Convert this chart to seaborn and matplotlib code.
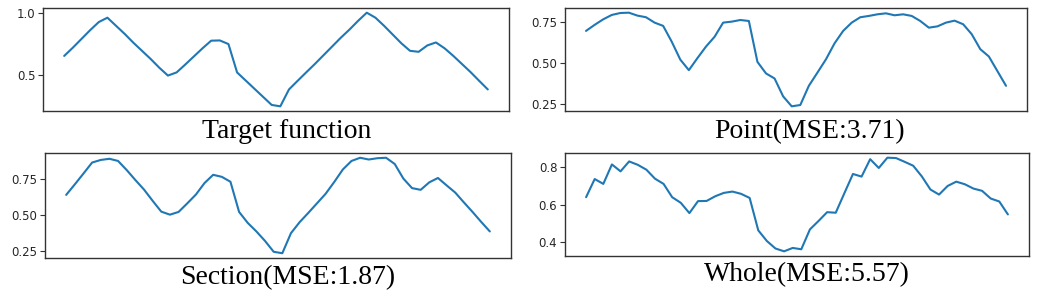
import numpy as np
import pandas as pd
import matplotlib
matplotlib.use("Agg")
import matplotlib.pyplot as plt
import seaborn as sns

# ---- data ----
target = [0.654, 0.72, 0.79, 0.86, 0.925, 0.96, 0.895, 0.83, 0.76, 0.695,
          0.63, 0.56, 0.497, 0.522, 0.585, 0.65, 0.715, 0.776, 0.778, 0.749,
          0.522, 0.457, 0.392, 0.327, 0.262, 0.251, 0.386, 0.455, 0.523, 0.59,
          0.66, 0.73, 0.80, 0.865, 0.935, 1.0, 0.96, 0.895, 0.825, 0.755,
          0.695, 0.687, 0.738, 0.762, 0.715, 0.655, 0.59, 0.525, 0.455, 0.386]
point = [0.696, 0.733, 0.767, 0.794, 0.806, 0.808, 0.79, 0.78, 0.747, 0.727,
         0.63, 0.52, 0.455, 0.529, 0.60, 0.66, 0.747, 0.753, 0.763, 0.757,
         0.506, 0.435, 0.404, 0.294, 0.233, 0.241, 0.359, 0.44, 0.522, 0.62,
         0.696, 0.747, 0.78, 0.788, 0.798, 0.804, 0.792, 0.798, 0.788, 0.757,
         0.716, 0.724, 0.747, 0.759, 0.737, 0.676, 0.584, 0.539, 0.449, 0.359]
section = [0.642, 0.715, 0.79, 0.866, 0.884, 0.892, 0.877, 0.814, 0.745, 0.679,
           0.601, 0.526, 0.505, 0.524, 0.583, 0.644, 0.724, 0.781, 0.767, 0.733,
           0.524, 0.448, 0.389, 0.323, 0.248, 0.238, 0.377, 0.453, 0.517, 0.583,
           0.649, 0.731, 0.818, 0.877, 0.899, 0.887, 0.896, 0.899, 0.856, 0.755,
           0.689, 0.677, 0.729, 0.759, 0.708, 0.658, 0.59, 0.524, 0.455, 0.389]
whole = [0.639, 0.736, 0.71, 0.814, 0.777, 0.83, 0.812, 0.786, 0.738, 0.71,
         0.639, 0.609, 0.554, 0.618, 0.619, 0.644, 0.662, 0.669, 0.657, 0.635,
         0.462, 0.405, 0.365, 0.350, 0.368, 0.361, 0.467, 0.512, 0.559, 0.556,
         0.66, 0.763, 0.749, 0.842, 0.795, 0.85, 0.848, 0.828, 0.807, 0.75,
         0.68, 0.653, 0.699, 0.722, 0.708, 0.685, 0.673, 0.632, 0.616, 0.547]

titles = ["Target function", "Point(MSE:3.71)", "Section(MSE:1.87)", "Whole(MSE:5.57)"]
yticks = [[0.5, 1.0], [0.25, 0.50, 0.75], [0.25, 0.50, 0.75], [0.4, 0.6, 0.8]]
yticklabels = [["0.5", "1.0"], ["0.25", "0.50", "0.75"], ["0.25", "0.50", "0.75"],
               ["0.4", "0.6", "0.8"]]
series = [target, point, section, whole]

# ---- layout (pixels in a 1053x308 canvas) ----
W, H = 1053, 308
axes_px = [(43, 8, 509, 111), (565, 8, 1027, 111), (45, 153, 511, 258), (565, 153, 1029, 256)]
cap_px = [(287, 137.5), (810, 138), (288, 284), (807, 281.5)]

sns.set_style("white")
plt.rcParams["font.family"] = ["DejaVu Sans"]
fig = plt.figure(figsize=(W / 100, H / 100), dpi=100)
fig.patch.set_facecolor("white")

for vals, title, yt, ytl, (x0, y0, x1, y1), (cx, cy) in zip(
        series, titles, yticks, yticklabels, axes_px, cap_px):
    ax = fig.add_axes([x0 / W, 1 - y1 / H, (x1 - x0) / W, (y1 - y0) / H])
    df = pd.DataFrame({"x": np.arange(len(vals)), "y": vals})
    sns.lineplot(data=df, x="x", y="y", ax=ax, color="#1f77b4", linewidth=1.5)
    ax.set_xticks([])
    ax.set_yticks(yt)
    ax.set_yticklabels(ytl)
    ax.set_xlabel("")
    ax.set_ylabel("")
    ax.margins(x=0.05, y=0.05)
    for s in ax.spines.values():
        s.set_color("#333333")
        s.set_linewidth(1.0)
    ax.tick_params(axis="y", left=True, length=3.5, width=0.8, color="#333333",
                   labelsize=8.5, labelcolor="#262626", pad=2)
    fig.text(cx / W, 1 - cy / H, title, ha="center", va="baseline",
             fontsize=20, family="Liberation Serif", color="black")

fig.savefig("out.png", dpi=100, facecolor="white")
